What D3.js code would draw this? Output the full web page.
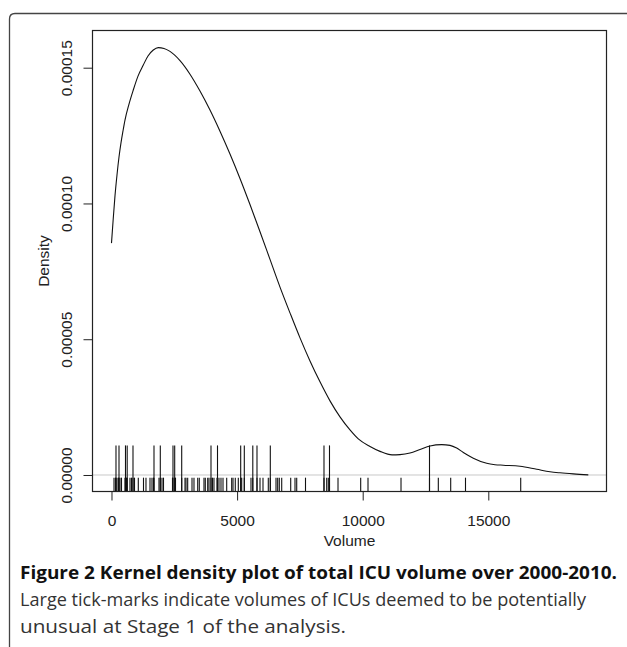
<!DOCTYPE html>
<html><head><meta charset="utf-8">
<script src="https://cdn.jsdelivr.net/npm/d3@7"></script>
<style>body{margin:0;background:#fff}svg{display:block}</style>
</head><body>
<script>
// ---- data ----
const curveVolume = [0,60,139,219,299,378,458,537,697,868,1055,1266,1453,1664,1863,2090,2329,2727,3125,3523,3921,4319,4717,5115,5513,5912,6310,6708,7106,7504,7902,8300,8698,9096,9494,9825,10291,10689,11167,11485,11883,12281,12679,13145,13475,13742,14005,14403,14936,15267,15597,16262,16927,17456,17854,18384,18981];
const curveDensity = [8.54e-5,9.32e-5,10.28e-5,11.05e-5,11.71e-5,12.23e-5,12.67e-5,13.07e-5,13.66e-5,14.18e-5,14.69e-5,15.10e-5,15.43e-5,15.65e-5,15.74e-5,15.71e-5,15.60e-5,15.26e-5,14.76e-5,14.14e-5,13.44e-5,12.66e-5,11.82e-5,10.92e-5,9.96e-5,8.96e-5,7.94e-5,6.92e-5,5.97e-5,5.05e-5,4.20e-5,3.43e-5,2.73e-5,2.14e-5,1.66e-5,1.33e-5,1.05e-5,0.87e-5,0.74e-5,0.75e-5,0.81e-5,0.94e-5,1.07e-5,1.12e-5,1.09e-5,0.99e-5,0.83e-5,0.62e-5,0.43e-5,0.38e-5,0.36e-5,0.32e-5,0.21e-5,0.12e-5,0.08e-5,0.04e-5,0.005e-5];
const allVolumes = [100,159,179,219,279,299,338,398,537,557,597,625,736,796,856,916,1067,1274,1373,1533,1612,1672,1692,1891,1943,2010,2070,2428,2448,2516,2548,2795,2926,2966,3033,3205,3284,3432,3495,3682,3734,3830,3881,3961,4021,4080,4200,4220,4279,4359,4439,4586,4785,4837,4928,5048,5143,5183,5287,5553,5625,5792,5912,6031,6242,6322,6549,6616,6680,6776,7134,7305,7373,7723,8459,8567,8631,8678,9017,9920,10211,11525,12659,13010,13503,14092,16290];
const unusualVolumes = [179,299,557,625,856,1692,1943,2448,2516,2795,3961,4220,5143,5287,5625,5792,6322,8459,8678,12659];
const xTicks = [0,5000,10000,15000];
const xTickLabels = ["0","5000","10000","15000"];
const yTicks = [0,0.00005,0.0001,0.00015];
const yTickLabels = ["0.00000","0.00005","0.00010","0.00015"];
const xLabel = "Volume";
const yLabel = "Density";
const captionBold = "Figure 2 Kernel density plot of total ICU volume over 2000-2010.";
const captionLines = ["Large tick-marks indicate volumes of ICUs deemed to be potentially","unusual at Stage 1 of the analysis."];

// ---- layout ----
const W = 627, H = 647;
const L = 92.5, R = 606.5, T = 30.5, B = 491.5;
const svg = d3.select("body").append("svg").attr("width", W).attr("height", H);
const x = d3.scaleLinear().domain([-756, 19705]).range([L, R]);
const y = d3.scaleLinear().domain([-6.08e-6, 1.637e-4]).range([B, T]);
const font = "'Liberation Sans', Arial, Helvetica, sans-serif";
const fs = 15.5;

// outer frame with rounded corner
svg.append("path")
  .attr("d", `M9.5,${H} L9.5,19 Q9.5,13.5 15,13.5 L${W},13.5`)
  .attr("fill","none").attr("stroke","#444").attr("stroke-width",1.3);

// zero line
svg.append("line").attr("x1",L).attr("x2",R).attr("y1",y(0)).attr("y2",y(0))
  .attr("stroke","#c8c8c8").attr("stroke-width",1);

// rug
const plotH = B - T;
svg.append("g").selectAll("line").data(allVolumes).join("line")
  .attr("x1",d=>x(d)).attr("x2",d=>x(d)).attr("y1",B).attr("y2",B-0.03*plotH)
  .attr("stroke","#111").attr("stroke-width",1.1);
svg.append("g").selectAll("line").data(unusualVolumes).join("line")
  .attr("x1",d=>x(d)).attr("x2",d=>x(d)).attr("y1",B).attr("y2",B-0.1*plotH)
  .attr("stroke","#111").attr("stroke-width",1.1);

// density curve
const pts = curveVolume.map((v,i)=>[v, curveDensity[i]]);
svg.append("path").datum(pts)
  .attr("d", d3.line().x(d=>x(d[0])).y(d=>y(d[1])).curve(d3.curveMonotoneX))
  .attr("fill","none").attr("stroke","#111").attr("stroke-width",1.1);

// box
svg.append("rect").attr("x",L).attr("y",T).attr("width",R-L).attr("height",B-T)
  .attr("fill","none").attr("stroke","#222").attr("stroke-width",1.2);

// x axis
const xa = svg.append("g").attr("transform",`translate(0,${B})`)
  .call(d3.axisBottom(x).tickValues(xTicks).tickSize(9).tickFormat((d,i)=>xTickLabels[i]).tickPadding(14));
xa.select(".domain").attr("stroke","#222").attr("d",`M${x(xTicks[0])},0H${x(xTicks[xTicks.length-1])}`);
xa.selectAll(".tick line").attr("stroke","#222");
xa.selectAll("text").attr("font-family",font).attr("font-size",fs).attr("fill","#222");

// y axis
const ya = svg.append("g").attr("transform",`translate(${L},0)`)
  .call(d3.axisLeft(y).tickValues(yTicks).tickSize(9).tickFormat((d,i)=>yTickLabels[i]));
ya.select(".domain").attr("stroke","#222").attr("d",`M0,${y(yTicks[0])}V${y(yTicks[yTicks.length-1])}`);
ya.selectAll(".tick line").attr("stroke","#222");
ya.selectAll("text").attr("font-family",font).attr("font-size",fs).attr("fill","#222")
  .attr("x",null).attr("dy",null).attr("text-anchor","middle")
  .attr("transform","translate(-20.5,0) rotate(-90)");

// axis titles
svg.append("text").attr("x",(L+R)/2).attr("y",546).attr("text-anchor","middle")
  .attr("font-family",font).attr("font-size",fs).attr("fill","#222").text(xLabel);
svg.append("text").attr("transform",`translate(49,${(T+B)/2}) rotate(-90)`).attr("text-anchor","middle")
  .attr("font-family",font).attr("font-size",fs).attr("fill","#222").text(yLabel);

// caption
const cf = "'Open Sans', 'Noto Sans', sans-serif";
svg.append("text").attr("x",20).attr("y",579).attr("font-family",cf).attr("font-weight","bold")
  .attr("font-size",18).attr("fill","#111").attr("textLength",597).attr("lengthAdjust","spacingAndGlyphs").text(captionBold);
const capW = [566, 326];
captionLines.forEach((t,i)=>{
  svg.append("text").attr("x",20).attr("y",606+i*27).attr("font-family",cf)
    .attr("font-size",18.5).attr("fill","#333").attr("textLength",capW[i]).attr("lengthAdjust","spacingAndGlyphs").text(t);
});
</script>
</body></html>
